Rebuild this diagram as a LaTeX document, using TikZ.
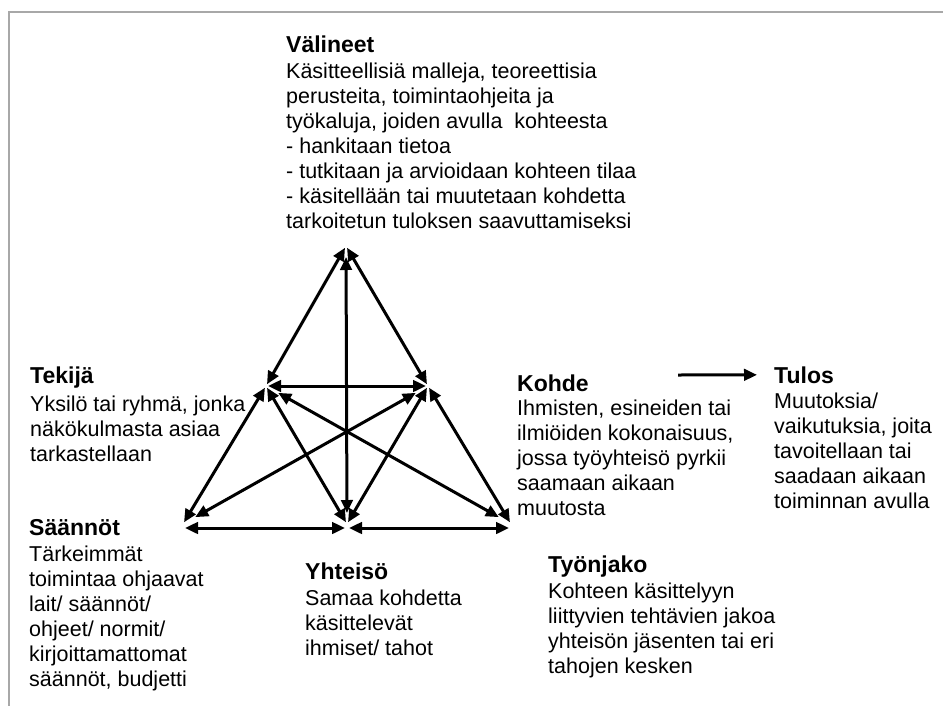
\documentclass[tikz,border=0pt]{standalone}
\usepackage{fontspec}
\setmainfont{Liberation Sans}
\usetikzlibrary{arrows.meta}

% multi-line description block, aligned on its first baseline
\newcommand\desclines[1]{\parbox[t]{400pt}{\raggedright #1}}

\tikzset{
  framecol/.style={draw={rgb,255:red,168;green,168;blue,168}, line width=2pt},
  link/.style={line width=3pt, <->, shorten <=2pt, shorten >=2pt},
  flow/.style={line width=3pt, ->},
  ttl/.style={anchor=base west, inner sep=0pt, font=\fontsize{23}{26}\selectfont\bfseries},
  txt/.style={anchor=base west, inner sep=0pt, font=\fontsize{21.5}{25}\selectfont},
}

\begin{document}
\begin{tikzpicture}[x=1pt, y=-1pt, >={Triangle[length=13pt,width=11.5pt]}]
\useasboundingbox (0,0) rectangle (943,705);

% partial frame (top and left edges)
\draw[framecol] (9,706) -- (9,12) -- (944,12);

% corners of the activity triangle
\coordinate (V) at (346,246);
\coordinate (T) at (266,386);
\coordinate (K) at (428,386);
\coordinate (S) at (183,524);
\coordinate (Y) at (347,524);
\coordinate (J) at (511,524);

% connections between the elements
\draw[link] (V) -- (T);
\draw[link] (V) -- (K);
\draw[link, shorten <=11pt, shorten >=11pt] (V) -- (Y);
\draw[link] (T) -- (K);
\draw[link] (T) -- (S);
\draw[link] (T) -- (Y);
\draw[link, shorten <=14pt, shorten >=14pt] (T) -- (J);
\draw[link, shorten <=14pt, shorten >=14pt] (K) -- (S);
\draw[link] (K) -- (Y);
\draw[link] (K) -- (J);
\draw[link] ([yshift=-4pt]S) -- ([yshift=-4pt]Y);
\draw[link] ([yshift=-4pt]Y) -- ([yshift=-4pt]J);

% Välineet
\node[ttl] (valT) at (286,52) {Välineet};
\node[txt] (valB) at (286,78) {\desclines{Käsitteellisiä malleja, teoreettisia\\
perusteita, toimintaohjeita ja\\
työkaluja, joiden avulla\ \ kohteesta\\
- hankitaan tietoa\\
- tutkitaan ja arvioidaan kohteen tilaa\\
- käsitellään tai muutetaan kohdetta\\
tarkoitetun tuloksen saavuttamiseksi}};

% Tekijä
\node[ttl] (tekT) at (30,383) {Tekijä};
\node[txt] (tekB) at (30,411) {\desclines{Yksilö tai ryhmä, jonka\\
näkökulmasta asiaa\\
tarkastellaan}};

% Kohde
\node[ttl] (kohT) at (517,391) {Kohde};
\node[txt] (kohB) at (517,415) {\desclines{Ihmisten, esineiden tai\\
ilmiöiden kokonaisuus,\\
jossa työyhteisö pyrkii\\
saamaan aikaan\\
muutosta}};

% Tulos
\node[ttl] (tulT) at (774,383) {Tulos};
\node[txt] (tulB) at (774,408) {\desclines{Muutoksia/\\
vaikutuksia, joita\\
tavoitellaan tai\\
saadaan aikaan\\
toiminnan avulla}};

% Säännöt
\node[ttl] (saaT) at (29,535) {Säännöt};
\node[txt] (saaB) at (29,561) {\desclines{Tärkeimmät\\
toimintaa ohjaavat\\
lait/ säännöt/\\
ohjeet/ normit/\\
kirjoittamattomat\\
säännöt, budjetti}};

% Yhteisö
\node[ttl] (yhtT) at (305,579) {Yhteisö};
\node[txt] (yhtB) at (305,605) {\desclines{Samaa kohdetta\\
käsittelevät\\
ihmiset/ tahot}};

% Työnjako
\node[ttl] (tyoT) at (548,572) {Työnjako};
\node[txt] (tyoB) at (548,598) {\desclines{Kohteen käsittelyyn\\
liittyvien tehtävien jakoa\\
yhteisön jäsenten tai eri\\
tahojen kesken}};

% outcome arrow
\coordinate (flowA) at (678,375);
\draw[flow, shorten >=17pt] (flowA) -- (tulT.west);
\end{tikzpicture}
\end{document}
